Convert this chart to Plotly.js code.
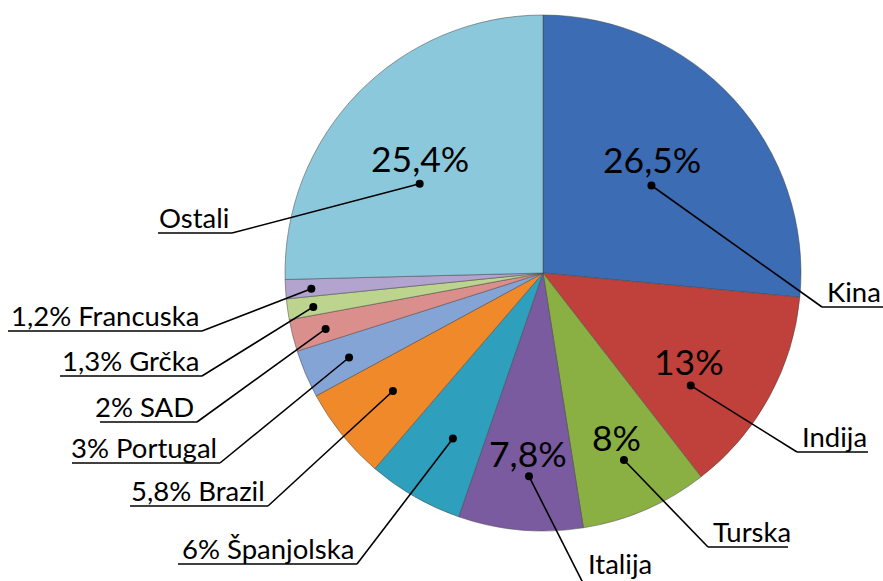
<!DOCTYPE html>
<html>
<head>
<meta charset="utf-8">
<script src="https://cdn.plot.ly/plotly-3.0.1.min.js"></script>
<style>html,body{margin:0;padding:0;background:#fff;}#chart{width:883px;height:581px;}</style>
</head>
<body>
<div id="chart"></div>
<script>
// ---- data ----
const countries = ['Kina','Indija','Turska','Italija','Španjolska','Brazil','Portugal','SAD','Grčka','Francuska','Ostali'];
const shares    = [26.5, 13, 8, 7.8, 6, 5.8, 3, 2, 1.3, 1.2, 25.4];
const sliceColors = ['#3b6cb4','#c0403b','#8ab043','#7a5ba0','#2f9fbe','#f0892a','#85a4d6','#da8f8d','#bcd48e','#b2a4cf','#8cc8dc'];
const insideLabel = [true, true, true, true, false, false, false, false, false, false, true];

// ---- layout (pixels) ----
const W = 883, H = 581;
const CX = 543, CY = 273, R = 258;
// dot placement: radial fraction and small angle nudge (deg)
const dotFrac  = [0.54, 0.72, 0.79, 0.79, 0.73, 0.74, 0.82, 0.87, 0.90, 0.90, 0.59];
const dotNudge = [3.4, 8.5, 0, -1.1, -1.3, 0.7, -0.5, -0.4, -0.3, -0.3, -8.4];
// inner percentage label offset from dot
const innerOff = [[1,-26],[-2,-24],[-7,-23],[-1,-23],null,null,null,null,null,null,[0,-25]];
// outside label underline [x1, x2, y], side, and text lift above underline
const underline = [[822,883,307],[797,868,452],[708,788,547],[583,662,583],[178,357,564],[130,268,506],[72,220,463],[100,197,422],[60,202,376],[8,202,331],[158,232,233]];
const side = ['R','R','R','R','L','L','L','L','L','L','L'];
const textLift = [16,16,16,20,16,16,16,16,16,16,16];

function px(x){ return x / W; }
function py(y){ return 1 - y / H; }
function fmt(v){ return String(v).replace('.', ',') + '%'; }

const total = shares.reduce((a,b)=>a+b,0);
let cum = 0;
const dots = shares.map((v,i)=>{
  const mid = (cum + v/2) / total * 360 + dotNudge[i];
  cum += v;
  const a = mid * Math.PI / 180;
  return [CX + dotFrac[i]*R*Math.sin(a), CY - dotFrac[i]*R*Math.cos(a)];
});

const FONT = 'Lato, "Open Sans", sans-serif';
const shapes = [];
const annotations = [];
countries.forEach((name,i)=>{
  const [dx,dy] = dots[i];
  const [x1,x2,uy] = underline[i];
  const endX = side[i]==='R' ? x1 : x2;
  shapes.push({type:'line', xref:'paper', yref:'paper', x0:px(dx), y0:py(dy), x1:px(endX), y1:py(uy), line:{color:'#000', width:1.6}, layer:'above'});
  shapes.push({type:'line', xref:'paper', yref:'paper', x0:px(x1), y0:py(uy), x1:px(x2), y1:py(uy), line:{color:'#000', width:1.6}, layer:'above'});
  shapes.push({type:'circle', xref:'paper', yref:'paper', x0:px(dx-4), y0:py(dy-4), x1:px(dx+4), y1:py(dy+4), fillcolor:'#000', line:{color:'#000', width:0}, layer:'above'});
  const outText = insideLabel[i] ? name : fmt(shares[i]) + ' ' + name;
  annotations.push({
    xref:'paper', yref:'paper', showarrow:false,
    x: side[i]==='R' ? px(x1+3) : px(x2-1),
    xanchor: side[i]==='R' ? 'left' : 'right',
    y: py(uy-textLift[i]), yanchor:'middle',
    text: outText, font:{family:FONT, size:27.5, color:'#000'}
  });
  if (insideLabel[i]) {
    const o = innerOff[i];
    annotations.push({
      xref:'paper', yref:'paper', showarrow:false,
      x: px(dx + o[0]), y: py(dy + o[1]), xanchor:'center', yanchor:'middle',
      text: fmt(shares[i]), font:{family:FONT, size:35.5, color:'#000'}
    });
  }
});

const trace = {
  type:'pie',
  labels: countries,
  values: shares,
  sort:false,
  direction:'clockwise',
  rotation:0,
  textinfo:'none',
  hoverinfo:'label+percent',
  marker:{colors:sliceColors, line:{color:'rgba(70,70,70,0.5)', width:1}},
  domain:{x:[px(CX-R), px(CX+R)], y:[py(CY+R), py(CY-R)]},
  showlegend:false
};

Plotly.newPlot('chart', [trace], {
  width:W, height:H,
  margin:{l:0,r:0,t:0,b:0},
  paper_bgcolor:'#fff',
  showlegend:false,
  shapes: shapes,
  annotations: annotations
}, {displayModeBar:false, staticPlot:true});
</script>
</body>
</html>
